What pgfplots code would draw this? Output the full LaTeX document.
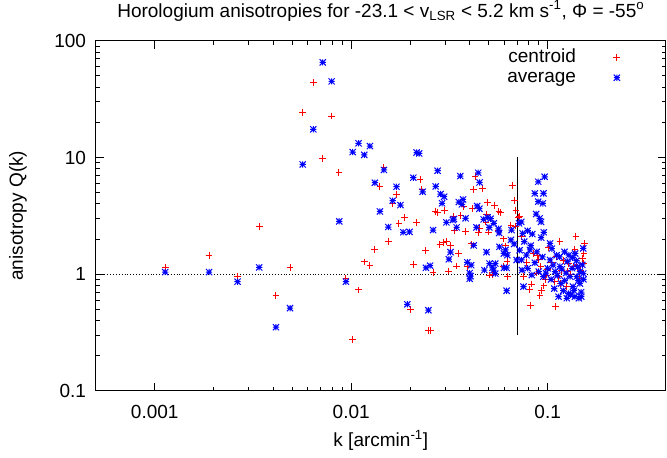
\documentclass[border=0pt]{standalone}
\usepackage{fontspec}
\setmainfont{Liberation Sans}
\usepackage{pgfplots}
\pgfplotsset{compat=1.18}
\pgfdeclareplotmark{gpstar}{%
  \pgfpathmoveto{\pgfpoint{-\pgfplotmarksize}{0pt}}\pgfpathlineto{\pgfpoint{\pgfplotmarksize}{0pt}}%
  \pgfpathmoveto{\pgfpoint{0pt}{-\pgfplotmarksize}}\pgfpathlineto{\pgfpoint{0pt}{\pgfplotmarksize}}%
  \pgfpathmoveto{\pgfpoint{-\pgfplotmarksize}{-\pgfplotmarksize}}\pgfpathlineto{\pgfpoint{\pgfplotmarksize}{\pgfplotmarksize}}%
  \pgfpathmoveto{\pgfpoint{-\pgfplotmarksize}{\pgfplotmarksize}}\pgfpathlineto{\pgfpoint{\pgfplotmarksize}{-\pgfplotmarksize}}%
  \pgfusepathqstroke}
\definecolor{gpred}{RGB}{255,0,0}
\definecolor{gpblue}{RGB}{0,0,255}
\newcommand{\gpfont}{\fontsize{19bp}{21bp}\selectfont}
\begin{document}
\gpfont
\begin{tikzpicture}
\begin{axis}[
  scale only axis, width=570.4bp, height=350bp,
  xmode=log, ymode=log,
  xmin=0.0005, xmax=0.4, ymin=0.1, ymax=100,
  xtick={0.001,0.01,0.1}, xticklabels={0.001,0.01,0.1},
  ytick={0.1,1,10,100}, yticklabels={0.1,1,10,100},
  /pgf/number format/assume math mode=true,
  tick align=inside,
  major tick length=8bp, minor tick length=4bp,
  every tick/.style={black, line width=0.8bp},
  axis line style={line width=1bp},
  tick label style={font=\gpfont},
  label style={font=\gpfont},
  xticklabel style={anchor=base, yshift=-27.5bp},
  yticklabel style={anchor=base east, xshift=-3bp, yshift=-6.8bp},
  title={Horologium anisotropies for -23.1 < v\textsubscript{LSR} < 5.2 km s\textsuperscript{-1}, Φ = -55\textsuperscript{o}},
  title style={at={(axis description cs:0.5,1)}, anchor=base, yshift=17.5bp, font=\gpfont},
  xlabel={k [arcmin\textsuperscript{-1}]},
  xlabel style={at={(axis description cs:0.5,0)}, anchor=base, yshift=-56bp},
  ylabel={anisotropy Q(k)},
  ylabel style={at={(axis description cs:-0.1273,0.5)}, anchor=base},
  legend style={draw=none, fill=none, inner sep=0pt,
    nodes={inner sep=0pt, text height=14bp, text depth=5bp},
    column sep=37.5bp, row sep=1bp,
    at={(axis description cs:0.9202,0.9791)}, anchor=north east, font=\gpfont},
  legend cell align=right, legend plot pos=right,
]
\addplot[only marks, mark=+, mark size=3.4bp, gpred, line width=1bp] coordinates {
(0.00113,1.13) (0.00189,1.45) (0.00264,0.95) (0.0034,2.54) (0.00414,0.65) (0.00488,1.13)
(0.00566,24.4) (0.00641,43.9) (0.00716,9.8) (0.00795,22.6) (0.00866,7.4) (0.0094,0.92)
(0.01017,0.275) (0.0109,0.73) (0.01165,1.27) (0.01245,1.19) (0.01316,1.63) (0.01468,8.2)
(0.0140,5.6) (0.01544,1.89) (0.0163,4.0) (0.0170,4.82) (0.0175,2.72) (0.0186,3.04)
(0.0200,0.50) (0.0208,1.21) (0.0215,2.75) (0.0224,6.43) (0.0229,5.3) (0.0238,1.58)
(0.0247,0.33) (0.0254,0.33) (0.0261,1.03) (0.0267,3.42) (0.0274,3.35) (0.0283,1.78)
(0.0294,1.85) (0.0297,3.53) (0.0305,1.91) (0.0314,1.06) (0.0320,1.76) (0.0332,3.14)
(0.0337,2.35) (0.0344,1.17) (0.0353,1.49) (0.0362,3.18) (0.0375,3.77) (0.0382,2.30)
(0.039,1.16) (0.0413,3.66) (0.042,5.32) (0.0427,6.82) (0.0408,1.81) (0.0449,2.46)
(0.0446,2.26) (0.0465,5.42) (0.0485,2.79) (0.0488,3.27) (0.0492,4.08) (0.0501,2.29)
(0.0535,3.85) (0.0558,2.35) (0.0565,3.44) (0.0575,3.38) (0.0522,0.99) (0.0595,1.17)
(0.0621,1.28) (0.0627,0.95) (0.0598,2.0) (0.0610,1.74) (0.0665,5.71) (0.068,4.28)
(0.0689,3.53) (0.065,2.63) (0.0684,2.58) (0.072,3.14) (0.071,3.04) (0.0735,2.09)
(0.0504,0.98)
(0.1393,2.09) (0.1542,1.83) (0.1155,1.89) (0.1376,1.63) (0.1529,1.5) (0.1006,1.69)
(0.0889,1.45) (0.0844,1.5) (0.0903,1.34) (0.0924,1.16) (0.1110,1.41) (0.1273,1.23)
(0.1404,1.19) (0.1517,1.23) (0.1178,1.08) (0.0988,0.98) (0.0972,0.89) (0.0957,0.79)
(0.0931,0.72) (0.0913,0.65) (0.0829,0.82) (0.0812,0.74) (0.0821,0.54) (0.1098,0.53)
(0.1089,0.86) (0.1164,0.83) (0.1258,1.05)
(0.1,1.1) (0.105,1.25) (0.113,0.95) (0.12,1.3) (0.13,1.0) (0.135,1.15) (0.145,0.92)
(0.15,1.35) (0.147,1.08) (0.125,0.78) (0.088,1.02) (0.078,1.25) (0.075,0.95)
};
\addlegendentry{centroid}
\addplot[only marks, mark=gpstar, mark size=3.1bp, gpblue, line width=1bp] coordinates {
(0.00113,1.04) (0.00189,1.04) (0.00264,0.86) (0.0034,1.14) (0.00414,0.35) (0.00488,0.51)
(0.00566,8.7) (0.00641,17.4) (0.00716,65.2) (0.00795,44.8) (0.00869,2.83) (0.0094,0.86)
(0.01017,11.1) (0.0109,13.2) (0.01165,10.5) (0.01245,12.5) (0.0132,6.06) (0.0140,3.44)
(0.01468,7.8) (0.01544,2.53) (0.01626,4.25) (0.0170,5.6) (0.0178,3.9) (0.0184,2.28)
(0.0193,0.55) (0.0198,2.30) (0.0207,6.69) (0.02153,11.0) (0.02219,10.8) (0.0231,5.07)
(0.024,1.13) (0.0247,0.49) (0.0252,1.18) (0.0261,2.38) (0.0269,5.64) (0.02754,7.68)
(0.0285,4.85) (0.029,4.04) (0.0297,4.6) (0.0305,2.77) (0.0314,1.34) (0.0320,1.54)
(0.0329,2.9) (0.0333,2.96) (0.0344,2.51) (0.0353,4.14) (0.0359,6.92) (0.0366,3.96)
(0.0371,4.36) (0.0382,3.0) (0.039,1.26) (0.0401,1.02) (0.0405,0.96) (0.0401,0.91)
(0.0408,1.19) (0.042,1.76) (0.0434,2.51) (0.0437,3.83) (0.0443,7.38) (0.0449,3.63)
(0.0450,6.1) (0.0472,2.94) (0.0476,1.08) (0.0488,1.54) (0.0494,3.06) (0.0504,2.51)
(0.0506,1.23) (0.0513,2.98) (0.0523,1.13) (0.0532,2.72) (0.0530,1.08) (0.0541,1.23)
(0.0541,1.01) (0.0562,2.44) (0.0566,2.25) (0.0568,1.71) (0.0598,1.5) (0.0600,1.13)
(0.0610,1.61) (0.0618,1.13) (0.0618,0.72) (0.0623,1.45) (0.065,1.96) (0.0655,2.38)
(0.0675,1.81) (0.0695,1.32) (0.0715,2.72) (0.0733,2.8)
(0.0965,6.82) (0.0895,6.18) (0.086,4.91) (0.0952,4.91) (0.0895,4.17) (0.0945,4.03)
(0.0873,3.27) (0.0910,3.0) (0.0925,2.8) (0.0955,2.28) (0.0791,2.35) (0.0746,2.23)
(0.0835,2.2) (0.0926,2.05) (0.0753,0.78) (0.1136,0.64) (0.1273,0.68) (0.1376,0.64)
(0.1482,0.64) (0.1346,0.78) (0.1458,0.83) (0.117,0.83) (0.1517,1.01) (0.1404,0.95)
(0.1155,1.16) (0.1067,1.19) (0.1028,1.32) (0.111,1.45) (0.1218,1.55) (0.1517,1.66)
(0.1028,1.83) (0.0812,1.61) (0.0791,1.12) (0.0735,1.32)
(0.098,1.02) (0.104,0.9) (0.108,0.75) (0.112,0.97) (0.118,1.1) (0.122,0.88) (0.126,1.28)
(0.13,0.95) (0.133,1.12) (0.136,0.72) (0.14,1.3) (0.143,0.88) (0.146,1.05) (0.148,0.7)
(0.15,1.2) (0.152,0.9) (0.125,0.62) (0.131,0.66) (0.144,0.62) (0.12,0.72) (0.115,1.4)
(0.109,1.05) (0.1,1.12) (0.095,0.95) (0.09,1.05) (0.086,1.25) (0.083,0.98) (0.078,1.45)
(0.074,1.08) (0.072,1.6) (0.076,1.9) (0.082,1.75) (0.088,1.55) (0.094,1.4) (0.105,1.65)
(0.128,1.45) (0.138,1.5) (0.142,1.15) (0.134,1.38) (0.124,1.02)
};
\addlegendentry{average}
\addplot[black, dotted, line width=0.9bp, forget plot] coordinates {(0.0005,1) (0.4,1)};
\addplot[black, line width=1.2bp, forget plot] coordinates {(0.07,0.3) (0.07,10)};
\end{axis}
\pgfresetboundingbox
\path[use as bounding box] (-95.6bp,-67.3bp) rectangle (571.4bp,390.7bp);
\end{tikzpicture}
\end{document}
